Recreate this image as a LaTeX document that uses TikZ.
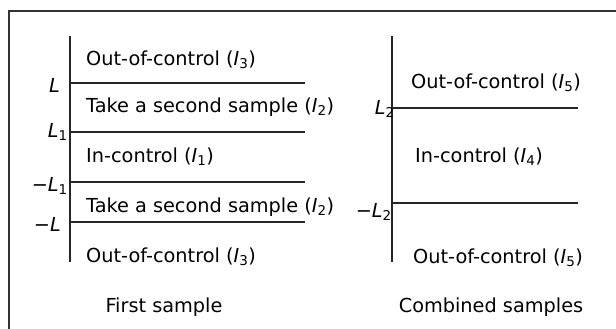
\documentclass[tikz,border=0pt]{standalone}
\usepackage{fontspec}
\setmainfont{DejaVu Sans}
\newcommand\sbs[1]{\textsubscript{#1}}
\begin{document}
\begin{tikzpicture}[x=1pt,y=-1pt,
  lbl/.style={anchor=west,inner sep=0pt,font=\fontsize{19.3}{21}\selectfont},
  axlbl/.style={anchor=east,inner sep=0pt,font=\fontsize{19.3}{21}\selectfont\itshape},
  axis/.style={line width=1.2pt,black!85},
  lvl/.style={line width=1.2pt,black!85}]
\useasboundingbox (0,0) rectangle (616,329);
\draw[line width=1.3pt,black!80] (9,329) -- (9,11) -- (616,11);
% left axis
\coordinate (la1) at (70,36); \coordinate (la2) at (70,262);
\draw[axis] (la1) -- (la2);
\coordinate (h1) at (70,83); \coordinate (h1e) at (305,83);
\coordinate (h2) at (70,132); \coordinate (h2e) at (305,132);
\coordinate (h3) at (70,182); \coordinate (h3e) at (305,182);
\coordinate (h4) at (70,222); \coordinate (h4e) at (305,222);
\draw[lvl] (h1) -- (h1e); \draw[lvl] (h2) -- (h2e);
\draw[lvl] (h3) -- (h3e); \draw[lvl] (h4) -- (h4e);
\node[axlbl] (lL) at (60,85) {L};
\node[axlbl] (lL1) at (68,132) {L\sbs{\upshape 1}};
\node[axlbl] (lmL1) at (68,186) {\upshape −\itshape L\sbs{\upshape 1}};
\node[axlbl] (lmL) at (61,224) {\upshape −\itshape L};
\node[lbl] (t1) at (86,60) {Out-of-control (\textit{I}\sbs{3})};
\node[lbl] (t2) at (86,107) {Take a second sample (\textit{I}\sbs{2})};
\node[lbl] (t3) at (86,157) {In-control (\textit{I}\sbs{1})};
\node[lbl] (t4) at (86,207) {Take a second sample (\textit{I}\sbs{2})};
\node[lbl] (t5) at (86,257) {Out-of-control (\textit{I}\sbs{3})};
\node[lbl,anchor=center] (fs) at (164,307) {First sample};
% right axis
\coordinate (ra1) at (392,36); \coordinate (ra2) at (392,262);
\draw[axis] (ra1) -- (ra2);
\coordinate (g1) at (392,108); \coordinate (g1e) at (578,108);
\coordinate (g2) at (392,203); \coordinate (g2e) at (578,203);
\draw[lvl] (g1) -- (g1e); \draw[lvl] (g2) -- (g2e);
\node[axlbl] (rL2) at (395,109) {L\sbs{\upshape 2}};
\node[axlbl] (rmL2) at (392,212) {\upshape −\itshape L\sbs{\upshape 2}};
\node[lbl] (u1) at (411,83) {Out-of-control (\textit{I}\sbs{5})};
\node[lbl] (u2) at (415,157) {In-control (\textit{I}\sbs{4})};
\node[lbl] (u3) at (413,258) {Out-of-control (\textit{I}\sbs{5})};
\node[lbl,anchor=center] (cs) at (491,307) {Combined samples};
\end{tikzpicture}
\end{document}
